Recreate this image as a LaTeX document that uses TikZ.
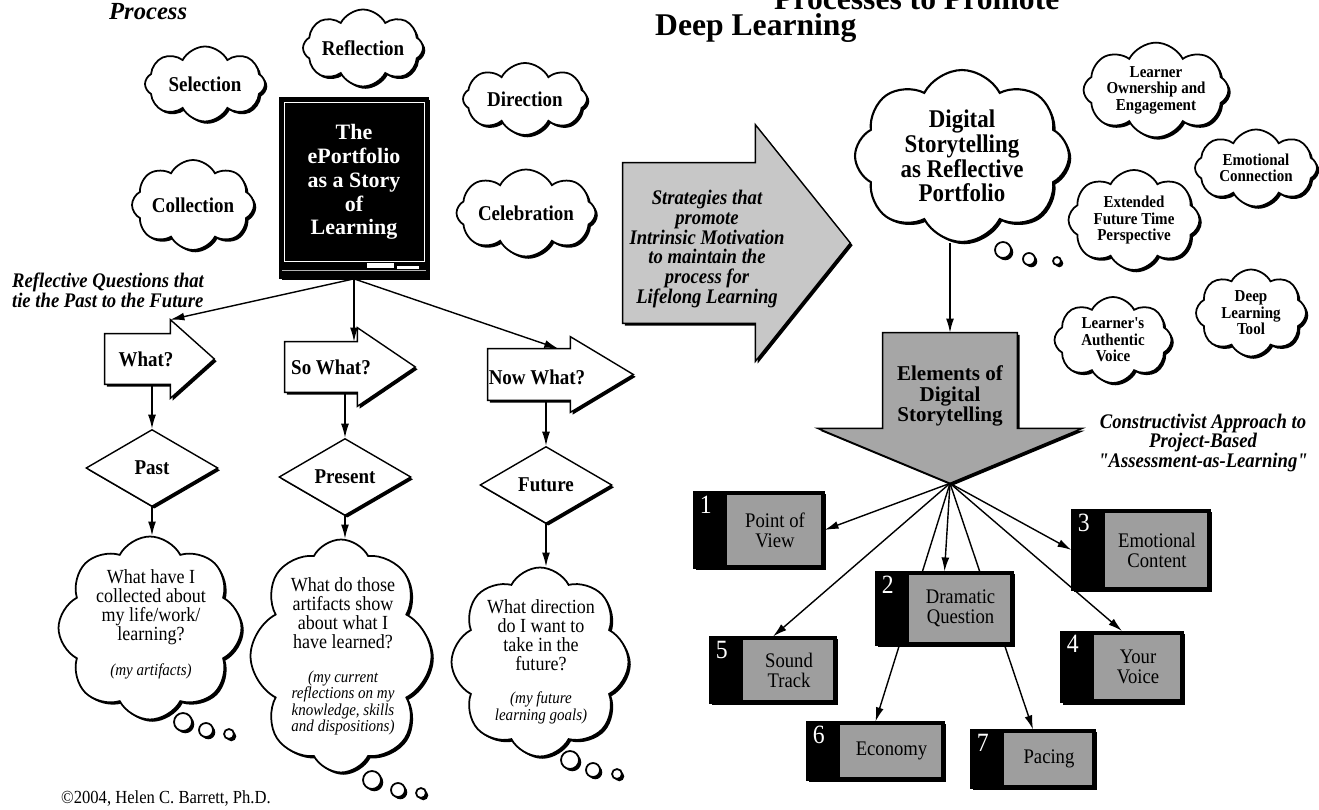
\documentclass[tikz,border=0pt]{standalone}
\usepackage{fontspec}
\setmainfont{Liberation Serif}
\newfontfamily\condfont{Liberation Serif}[FakeStretch=0.9]
\usetikzlibrary{positioning, arrows.meta, shapes.geometric, shapes.symbols, shadows, calc}
\pgfdeclarelayer{bg}
\pgfsetlayers{bg,main}
\newcommand{\fsz}[2]{\fontsize{#1}{#2}\selectfont}
% block arrow round an empty body node: style, name, head extend, tip length
\newcommand{\rightblock}[4][]{%
  \draw[blockline,#1] (#2.north west) -- (#2.north east) -- ++(0,-#3)
    -- ($(#2.east)+(#4,0)$) -- ($(#2.south east)+(0,#3)$)
    -- (#2.south east) -- (#2.south west) -- cycle;}
\newcommand{\downblock}[4][]{%
  \draw[blockline,#1] (#2.north west) -- (#2.north east) -- (#2.south east)
    -- ++(#3,0) -- ($(#2.south)+(0,#4)$) -- ($(#2.south west)+(-#3,0)$)
    -- (#2.south west) -- cycle;}

\begin{document}
\begin{tikzpicture}[x=0.02cm, y=-0.02cm,
  dshadow/.style={drop shadow={shadow xshift=1.3pt,shadow yshift=-1.3pt,fill=black,opacity=1}},
  puff/.style={cloud, cloud puffs=8, cloud puff arc=125, cloud ignores aspect,
               draw, line width=1pt, fill=white, inner sep=0pt, align=center, dshadow},
  plbl/.style={font=\condfont\bfseries\fsz{12}{12}},
  smlbl/.style={font=\condfont\bfseries\fsz{9.5}{9.4}},
  bublbl/.style={font=\condfont\bfseries\fsz{14.5}{14}},
  bubble/.style={circle, draw, line width=1pt, fill=white, inner sep=0pt, dshadow},
  board/.style={fill=black, draw=black, line width=1pt, inner sep=0pt, dshadow},
  boardtxt/.style={text=white, align=center, font=\bfseries\fsz{12.5}{13.6}},
  qbody/.style={inner sep=0pt},
  qlbl/.style={font=\condfont\bfseries\fsz{12}{12}},
  blockline/.style={draw, line width=0.8pt, fill=white, line join=miter, dshadow},
  gate/.style={diamond, draw, line width=0.8pt, fill=white, inner sep=0pt,
               font=\condfont\bfseries\fsz{12}{12}, dshadow},
  qtext/.style={align=center, font=\condfont\fsz{11.4}{10.8}},
  qnote/.style={align=center, font=\condfont\itshape\fsz{9.5}{9.3}},
  note/.style={align=center, font=\condfont\bfseries\itshape\fsz{11.8}{11.3}},
  numbox/.style={fill=black, draw=black, line width=0.6pt, inner sep=0pt, dshadow,
    path picture={\fill[black!38] ($(path picture bounding box.north west)+(33,3)$)
      rectangle ($(path picture bounding box.south east)+(-3,-3)$);}},
  numtxt/.style={text=white, anchor=north west, inner sep=0pt, font=\condfont\fsz{15}{15}},
  boxtxt/.style={align=center, font=\condfont\fsz{11.8}{11.3}},
  conn/.style={-{Latex[length=8pt,width=4.5pt]}, line width=0.8pt}]

\useasboundingbox (0,0) rectangle (1319,810);
\begin{pgfonlayer}{bg}
  \fill[white] (0,0) rectangle (1319,810);
\end{pgfonlayer}
\clip (0,0) rectangle (1319,810);

% titles
\node[anchor=base west, font=\bfseries\itshape\fsz{14}{14}] (ttlproc) at (103,20) {Process};
\node[anchor=base west, font=\bfseries\fsz{18}{18}] (ttlpromo) at (768,10) {Processes to Promote};
\node[anchor=base west, font=\bfseries\fsz{18}{18}] (ttldeep) at (649,36) {Deep Learning};

% left clouds round the board
\node[puff, plbl, minimum width=2.4cm, minimum height=1.54cm] (refl) at (363,48) {Reflection};
\node[puff, plbl, minimum width=2.4cm, minimum height=1.5cm] (sel) at (205,84) {Selection};
\node[puff, plbl, minimum width=2.48cm, minimum height=1.44cm] (dir) at (525,99) {Direction};
\node[puff, plbl, minimum width=2.44cm, minimum height=1.8cm] (coll) at (193,205) {Collection};
\node[puff, plbl, minimum width=2.78cm, minimum height=1.74cm] (celeb) at (526,213) {Celebration};

% blackboard
\node[board, minimum width=2.96cm, minimum height=3.6cm] (board) at (354,188) {};
\draw[white, line width=0.4pt] ($(board.north west)+(5,5)$) rectangle ($(board.south east)+(-5,-18)$);
\draw[black!30, line width=0.6pt] ($(board.south west)+(3,-8)$) -- ($(board.south east)+(-3,-8)$);
\fill[white] ($(board.south east)+(-62,-11)$) rectangle ++(27,-5);
\fill[white] ($(board.south east)+(-32,-10)$) rectangle ++(22,-3);
\node[boardtxt] (boardtxt) at (354,182) {The\\ePortfolio\\as a Story\\of\\Learning};

\node[note, align=left] (rq) at (108,290) {Reflective Questions that\\tie the Past to the Future};

% question arrows
\node[qbody, minimum width=1.3cm, minimum height=1cm] (what) at (137.5,359) {};
\node[qbody, minimum width=1.44cm, minimum height=1cm] (sowhat) at (321,367) {};
\node[qbody, minimum width=1.64cm, minimum height=1.02cm] (nowwhat) at (529,374.5) {};
\node[qlbl] (whattxt) at (146,359) {What?};
\node[qlbl] (sowhattxt) at (331,367) {So What?};
\node[qlbl] (nowwhattxt) at (537,377) {Now What?};
\begin{pgfonlayer}{bg}
  \rightblock{what}{14}{44}
  \rightblock{sowhat}{14}{58}
  \rightblock{nowwhat}{12}{63}
\end{pgfonlayer}

\node[gate, minimum width=2.64cm, minimum height=1.54cm] (past) at (152,468) {Past};
\node[gate, minimum width=2.64cm, minimum height=1.54cm] (present) at (345,477) {Present};
\node[gate, minimum width=2.64cm, minimum height=1.54cm] (future) at (546,485) {Future};

% thought clouds
\node[puff, minimum width=3.66cm, minimum height=3.66cm] (q1) at (150,628) {};
\node[puff, minimum width=3.62cm, minimum height=4.66cm] (q2) at (341,656) {};
\node[puff, minimum width=3.54cm, minimum height=3.78cm] (q3) at (540,662) {};
\node[qtext] (q1txt) at (151,607) {What have I\\collected about\\my life/work/\\learning?};
\node[qnote] (q1note) at (151,671) {(my artifacts)};
\node[qtext] (q2txt) at (343,613) {What do those\\artifacts show\\about what I\\have learned?};
\node[qnote] (q2note) at (343,703) {(my current\\reflections on my\\knowledge, skills\\and dispositions)};
\node[qtext] (q3txt) at (541,635) {What direction\\do I want to\\take in the\\future?};
\node[qnote] (q3note) at (541,708) {(my future\\learning goals)};

\foreach \bx/\by/\br in {183/722/9, 206/730/7, 229/734/5, 372/780/9, 398/790/7, 421/793/5,
                         570/760/9, 593/770/7, 617/774/5, 1003/250/8, 1029/259/6, 1057/261/4}
  \node[bubble, minimum size={\br*0.04cm}] (bub-\bx) at (\bx,\by) {};

\draw[conn] (board.south) -- ($(what.north east)+(0,-14)$);
\draw[conn] (board.south) -- (board.south |- sowhat.north);
\draw[conn] (board.south) -- ($(nowwhat.north east)+(-12,0)$);
\draw[conn] (what.south -| past.north) -- (past.north);
\draw[conn] (sowhat.south -| present.north) -- (present.north);
\draw[conn] (nowwhat.south -| future.north) -- (future.north);
\draw[conn] (past.south) -- (past.south |- q1.north);
\draw[conn] (present.south) -- (present.south |- q2.north);
\draw[conn] (future.south) -- (future.south |- q3.north);

\node[anchor=base west, font=\condfont\fsz{10.5}{10.5}] (copy) at (55,803) {©2004, Helen C. Barrett, Ph.D.};

% right half
\node[qbody, minimum width=2.64cm, minimum height=3.2cm] (strat) at (689,243) {};
\begin{pgfonlayer}{bg}
  \rightblock[fill=black!22]{strat}{38}{95}
\end{pgfonlayer}
\node[note] (strattxt) at (707,249) {Strategies that\\promote\\Intrinsic Motivation\\to maintain the\\process for\\Lifelong Learning};

\node[puff, bublbl, line width=1.2pt, minimum width=4.28cm, minimum height=3.44cm] (digital) at (962,156)
  {Digital\\Storytelling\\as Reflective\\Portfolio};

\node[puff, smlbl, minimum width=2.84cm, minimum height=1.6cm] (own) at (1156,90) {Learner\\Ownership and\\Engagement};
\node[puff, smlbl, minimum width=2.44cm, minimum height=1.54cm] (emo) at (1256,168) {Emotional\\Connection};
\node[puff, smlbl, minimum width=2.62cm, minimum height=2cm] (ext) at (1134,220) {Extended\\Future Time\\Perspective};
\node[puff, smlbl, minimum width=2.2cm, minimum height=1.74cm] (deep) at (1251,313) {Deep\\Learning\\Tool};
\node[puff, smlbl, minimum width=2.34cm, minimum height=1.72cm] (voice) at (1113,340) {Learner's\\Authentic\\Voice};

\node[qbody, minimum width=2.68cm, minimum height=1.9cm] (elems) at (950,380.5) {};
\begin{pgfonlayer}{bg}
  \downblock[fill=black!35]{elems}{65}{55}
\end{pgfonlayer}
\node[align=center, font=\bfseries\fsz{12}{11.5}] (elemstxt) at (950,396) {Elements of\\Digital\\Storytelling};
\coordinate (etip) at ($(elems.south)+(0,55)$);
\draw[conn] (digital.south -| elems.north) -- (elems.north);

\node[note] (constr) at (1203,443) {Constructivist Approach to\\Project-Based\\"Assessment-as-Learning"};

% the seven elements
\foreach \bname/\cx/\cy/\bw/\bh/\bn/\txt in {
    pov/759/530/2.6/1.52/1/{Point of\\View},
    dq/944.5/608.5/2.74/1.46/2/{Dramatic\\Question},
    emo/1141/550/2.76/1.6/3/{Emotional\\Content},
    yv/1122/667/2.44/1.42/4/{Your\\Voice},
    st/773/670/2.52/1.32/5/{Sound\\Track},
    eco/875.5/751/2.74/1.16/6/{Economy},
    pac/1033/759/2.48/1.16/7/{Pacing}} {
  \node[numbox, minimum width=\bw cm, minimum height=\bh cm] (\bname) at (\cx,\cy) {};
  \node[numtxt] (\bname-n) at ($(\bname.north west)+(6,4)$) {\bn};
  \node[boxtxt] (\bname-t) at ($(\bname.center)+(16,0)$) {\txt};
}

\foreach \t/\a in {pov/east, emo/west, dq/north, st/north, yv/north}
  \draw[conn] (etip) -- (\t.\a);
\begin{pgfonlayer}{bg}
  \draw[conn] (etip) -- (eco.north);
  \draw[conn] (etip) -- (pac.north);
\end{pgfonlayer}
\end{tikzpicture}
\end{document}
